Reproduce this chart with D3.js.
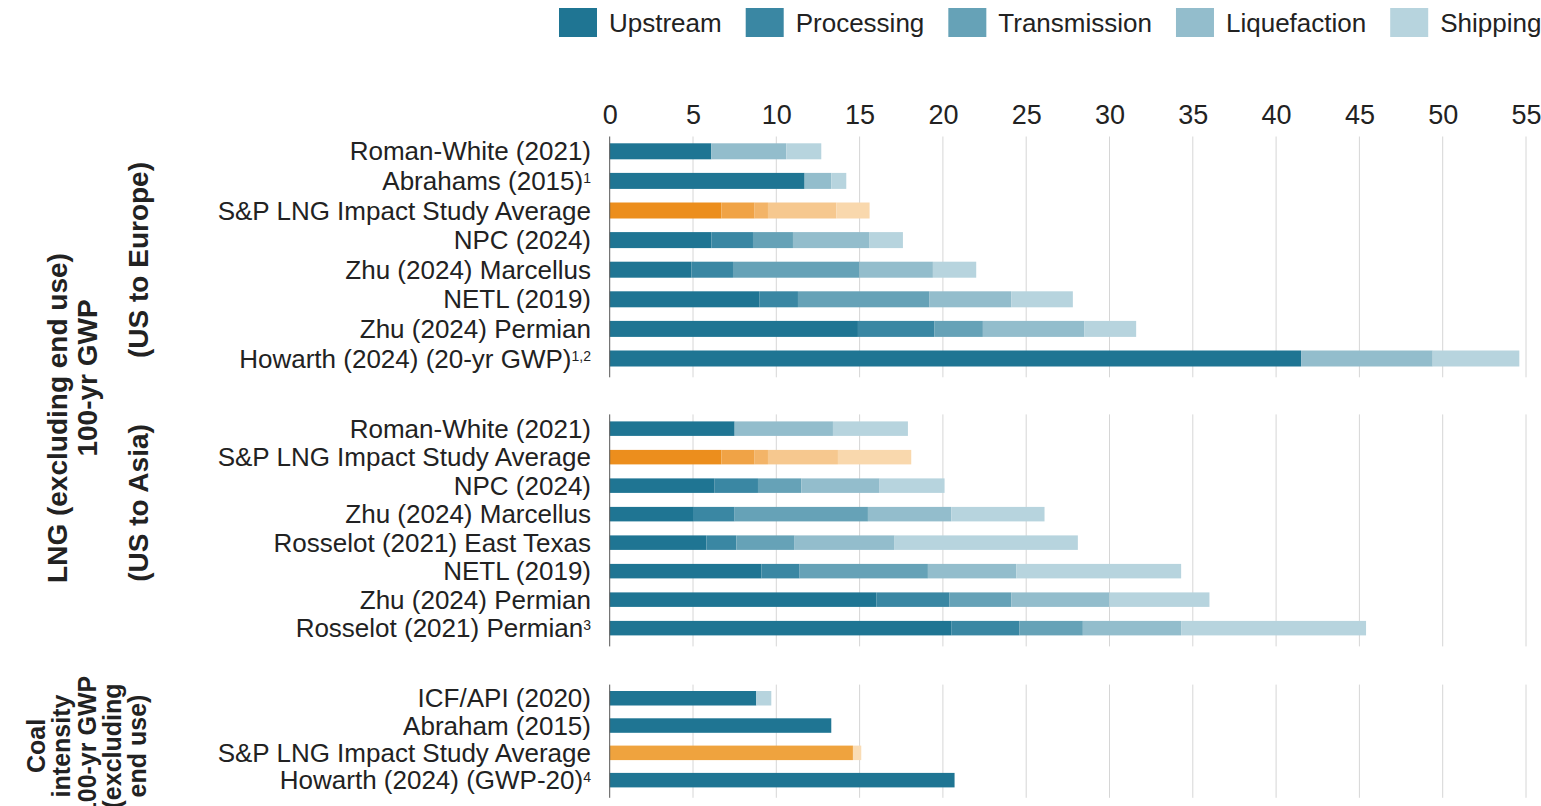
<!DOCTYPE html>
<html>
<head>
<meta charset="utf-8">
<script src="https://cdn.jsdelivr.net/npm/d3@7"></script>
<style>
  body { margin: 0; background: #fff; }
  svg { font-family: "Liberation Sans", Arial, Helvetica, sans-serif; }
</style>
</head>
<body>
<svg width="1541" height="806"></svg>
<script>
// supply-chain stages, in stacking order
const stages = ["Upstream", "Processing", "Transmission", "Liquefaction", "Shipping"];
const ticks = [0, 5, 10, 15, 20, 25, 30, 35, 40, 45, 50, 55];

// LNG, US to Europe
const europeLabels = ["Roman-White (2021)", "Abrahams (2015)", "S&P LNG Impact Study Average", "NPC (2024)",
  "Zhu (2024)  Marcellus", "NETL (2019)", "Zhu (2024) Permian", "Howarth (2024) (20-yr GWP)"];
const europeNotes = ["", "1", "", "", "", "", "", "1,2"];
const europeValues = [
  [6.1, 0, 0, 4.5, 2.1],
  [11.7, 0, 0, 1.6, 0.9],
  [6.7, 2.0, 0.8, 4.1, 2.0],
  [6.1, 2.5, 2.4, 4.6, 2.0],
  [4.9, 2.5, 7.6, 4.4, 2.6],
  [9.0, 2.3, 7.9, 4.9, 3.7],
  [14.9, 4.6, 2.9, 6.1, 3.1],
  [41.5, 0, 0, 7.9, 5.2]
];

// LNG, US to Asia
const asiaLabels = ["Roman-White (2021)", "S&P LNG Impact Study Average", "NPC (2024)", "Zhu (2024) Marcellus",
  "Rosselot (2021) East Texas", "NETL (2019)", "Zhu (2024) Permian", "Rosselot (2021) Permian"];
const asiaNotes = ["", "", "", "", "", "", "", "3"];
const asiaValues = [
  [7.5, 0, 0, 5.9, 4.5],
  [6.7, 2.0, 0.8, 4.2, 4.4],
  [6.3, 2.6, 2.6, 4.7, 3.9],
  [5.0, 2.5, 8.0, 5.0, 5.6],
  [5.8, 1.8, 3.5, 6.0, 11.0],
  [9.1, 2.3, 7.7, 5.3, 9.9],
  [16.0, 4.4, 3.7, 5.9, 6.0],
  [20.5, 4.1, 3.8, 5.9, 11.1]
];

// coal intensity
const coalLabels = ["ICF/API (2020)", "Abraham (2015)", "S&P LNG Impact Study Average", "Howarth (2024) (GWP-20)"];
const coalNotes = ["", "", "", "4"];
const coalValues = [
  [8.8, 0, 0, 0, 0.9],
  [13.3, 0, 0, 0, 0],
  [14.6, 0, 0, 0, 0.5],
  [20.7, 0, 0, 0, 0]
];

const stageColors = ["#1f7593", "#3a87a3", "#66a2b7", "#93bdcc", "#b7d4de"];
const highlightColors = ["#ec8e1d", "#f0a346", "#f3b468", "#f6c88f", "#f9d8ad"];
const coalHighlightColors = ["#efa33e", "#f0a346", "#f3b468", "#f6c88f", "#f9dcb5"];

const svg = d3.select("svg");

const x = d3.scaleLinear().domain([0, 55]).range([609.7, 1526]);

// top axis (labels only)
svg.append("g")
  .attr("transform", "translate(0,127)")
  .call(d3.axisTop(x).tickValues(ticks).tickSize(0).tickPadding(3))
  .call(g => g.select(".domain").remove())
  .call(g => g.selectAll("text")
    .attr("font-family", "Liberation Sans, Arial, sans-serif")
    .attr("font-size", 27).attr("fill", "#222"));

const groups = [
  {labels: europeLabels, notes: europeNotes, values: europeValues, top: 136.5, step: 29.6, bar: 16, hl: highlightColors},
  {labels: asiaLabels, notes: asiaNotes, values: asiaValues, top: 414.4, step: 28.5, bar: 14.5, hl: highlightColors},
  {labels: coalLabels, notes: coalNotes, values: coalValues, top: 684.6, step: 27.3, bar: 14.5, hl: coalHighlightColors}
];

const stack = d3.stack().keys(d3.range(stages.length)).value((d, k) => d[k]);

groups.forEach(grp => {
  const n = grp.labels.length;
  const pad = 1 - grp.bar / grp.step;
  const y = d3.scaleBand().domain(d3.range(n))
    .range([grp.top, grp.top + n * grp.step])
    .paddingInner(pad).paddingOuter(pad / 2);
  const bottom = grp.top + n * grp.step + 4;

  const g = svg.append("g");

  // gridlines
  g.selectAll("line.grid").data(ticks.slice(1)).join("line")
    .attr("class", "grid")
    .attr("x1", d => x(d)).attr("x2", d => x(d))
    .attr("y1", grp.top).attr("y2", bottom)
    .attr("stroke", "#d6d6d6").attr("stroke-width", 1);

  const series = stack(grp.values);
  series.forEach((s, si) => {
    g.selectAll(null).data(s.map((p, i) => ({p, i}))).join("rect")
      .filter(d => d.p[1] - d.p[0] > 0)
      .attr("x", d => x(d.p[0]))
      .attr("width", d => x(d.p[1]) - x(d.p[0]))
      .attr("y", d => y(d.i))
      .attr("height", y.bandwidth())
      .attr("fill", d => grp.labels[d.i].startsWith("S&P") ? grp.hl[si] : stageColors[si]);
  });

  // zero line
  g.append("line")
    .attr("x1", x(0)).attr("x2", x(0))
    .attr("y1", grp.top).attr("y2", bottom)
    .attr("stroke", "#555").attr("stroke-width", 1);

  // category labels
  const lab = g.selectAll("text.cat").data(grp.labels).join("text")
    .attr("class", "cat")
    .attr("x", 591)
    .attr("y", (d, i) => y(i) + y.bandwidth() / 2)
    .attr("dy", "0.35em")
    .attr("text-anchor", "end")
    .attr("font-size", 26)
    .attr("fill", "#222");
  lab.append("tspan").text(d => d);
  lab.append("tspan")
    .text((d, i) => grp.notes[i])
    .attr("font-size", 14)
    .attr("dy", "-0.5em");
});

// legend
let lx = 559;
stages.forEach((s, i) => {
  svg.append("rect").attr("x", lx).attr("y", 8).attr("width", 38).attr("height", 29)
    .attr("fill", stageColors[i]);
  const t = svg.append("text").attr("x", lx + 50).attr("y", 22.5).attr("dy", "0.35em")
    .attr("font-size", 26).attr("fill", "#222").text(s);
  lx += 50 + t.node().getComputedTextLength() + 24;
});

// rotated group titles
const titles = [
  {text: "LNG (excluding end use)", x: 67, y: 418, size: 28},
  {text: "100-yr GWP", x: 97, y: 378, size: 28},
  {text: "(US to Europe)", x: 148, y: 260, size: 28},
  {text: "(US to Asia)", x: 148, y: 503, size: 28},
  {text: "Coal", x: 45, y: 746, size: 25},
  {text: "intensity", x: 70, y: 746, size: 25},
  {text: "100-yr GWP", x: 96, y: 746, size: 25},
  {text: "(excluding", x: 121, y: 746, size: 25},
  {text: "end use)", x: 146, y: 746, size: 25}
];
svg.selectAll("text.title").data(titles).join("text")
  .attr("class", "title")
  .attr("transform", d => `translate(${d.x},${d.y}) rotate(-90)`)
  .attr("text-anchor", "middle")
  .attr("font-size", d => d.size)
  .attr("font-weight", "bold")
  .attr("fill", "#222")
  .text(d => d.text);
</script>
</body>
</html>
